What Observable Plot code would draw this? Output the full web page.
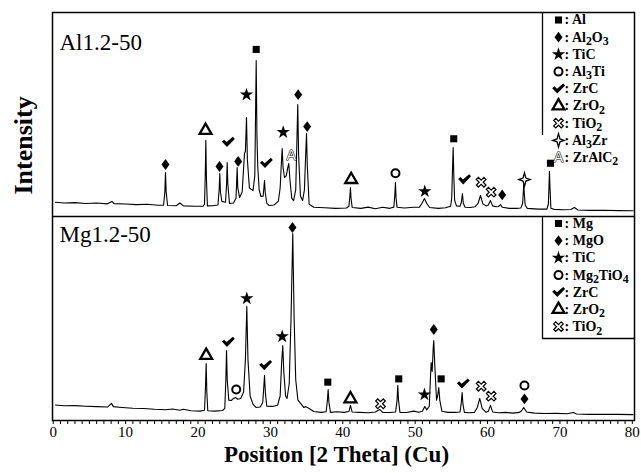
<!DOCTYPE html>
<html>
<head>
<meta charset="utf-8">
<script src="https://cdn.jsdelivr.net/npm/d3@7"></script>
<script src="https://cdn.jsdelivr.net/npm/@observablehq/plot@0.6"></script>
<style>
  html, body { margin: 0; padding: 0; background: white; }
</style>
</head>
<body>
<div id="chart"></div>
<script>
// ---- Data (2θ in degrees, intensity in arbitrary units, each panel 0–100) ----
const panelNames = ["Al1.2-50", "Mg1.2-50"];
const xTicks = [0, 10, 20, 30, 40, 50, 60, 70, 80];
const xLabel = "Position [2 Theta] (Cu)";
const yLabel = "Intensity";

// Al1.2-50 trace [2θ, intensity]
const alTrace = [
  [0.3,7.0],[1.5,6.6],[3,6.8],[4.5,6.4],[6,6.6],[7.5,6.2],[8.1,7.4],[8.4,6.3],[10,6.1],[11.5,5.8],[13,6.0],[14.5,5.5],
  [15.25,5.6],[15.42,12],[15.51,21.6],[15.6,12],[15.8,5.4],
  [17.0,5.3],[17.49,6.6],[18,5.2],[19.5,5.0],[20.7,5.0],
  [20.9,6],[21.0,20],[21.08,37.3],[21.17,18],[21.3,5.2],
  [22.0,5.3],[22.75,5.6],[22.92,13],[23.01,21.1],[23.1,12],[23.3,7.4],
  [23.8,7.0],[23.95,16],[24.03,26.5],[24.12,16],[24.35,6.4],[24.9,6.6],
  [25.25,9],[25.33,16],[25.41,24.0],[25.5,14],[25.75,9.3],
  [26.1,12],[26.42,30.9],[26.55,32],[26.70,48.5],[26.82,28],[27.1,14],
  [27.6,12.7],[27.85,20],[27.95,50],[28.04,76.5],[28.14,40],[28.26,24],[28.45,13],[28.7,9.8],
  [29.0,10],[29.1,14],[29.19,17.6],[29.28,12],[29.5,6.5],[29.8,5.4],[30.5,5.6],[31.1,7.5],
  [31.35,14],[31.5,25],[31.63,33.3],[31.75,24],[31.95,19.1],[32.2,20],[32.4,24],[32.54,26],[32.7,18],[32.95,9],[33.2,7.8],
  [33.5,13],[33.65,35],[33.78,54.9],[33.9,30],[34.15,10],[34.45,7.8],[34.7,13],[34.85,28],[34.99,40.7],[35.1,25],[35.35,6],[36,4.5],
  [37.5,4.3],[39,4.0],[40.5,4.2],[40.85,5],[40.98,10],[41.06,14.2],[41.14,9],[41.3,4.4],[42.5,4.0],[43.5,4.6],[44.5,3.8],[45.5,4.5],[46.5,4.0],
  [47.05,4.6],[47.18,10],[47.28,16.7],[47.36,9],[47.5,4.5],[48.5,4.2],[49.8,4.5],[50.6,4.6],
  [50.95,6.5],[51.28,8.8],[51.6,6.4],[52,4.4],[53.2,4.0],[54.2,4.3],[54.9,5.0],
  [55.05,9],[55.15,22],[55.25,33.8],[55.34,20],[55.45,8],[55.7,5.2],[56.2,5.0],
  [56.38,7],[56.53,11.3],[56.65,6.5],[56.9,4.5],[57.6,4.4],[58.3,4.8],
  [58.7,6.5],[59.02,10.3],[59.35,6.2],[59.8,5.2],[60.1,5.6],[60.4,7.8],[60.7,5.2],
  [61.2,4.8],[61.5,4.9],[61.78,5.8],[62.05,4.5],[63,4.0],[64,4.0],[64.6,4.2],
  [64.85,6.5],[64.93,11],[65.0,16.2],[65.08,11],[65.2,5.5],[65.5,4.0],[67,3.6],[68.2,3.6],
  [68.4,6],[68.48,14],[68.55,22.1],[68.63,14],[68.75,4],[69.2,3.5],[70.5,3.3],[71.5,3.4],[72.0,4.4],[72.5,3.2],[74,3.0],[76,3.1],[78,2.9],[80.1,2.8]
];

// Mg1.2-50 trace [2θ, intensity]
const mgTrace = [
  [0.3,7.6],[1.5,7.2],[3,7.3],[4.5,7.0],[6,6.8],[7.5,6.6],[8.05,8.4],[8.3,6.8],[9.5,6.4],[11,6.0],[12.5,5.9],[14,5.5],[15.5,5.3],[16.5,5.6],[17.5,5.0],[18,5.5],[19,4.8],[20.3,4.6],
  [20.9,5],[21.02,15],[21.13,27.9],[21.22,14],[21.35,4.8],[22.3,4.6],[23.4,4.9],
  [23.7,6],[23.85,20],[23.94,34.3],[24.04,20],[24.25,10],[24.6,9.8],[24.9,10.8],[25.18,11.3],[25.5,10.4],[25.9,10.8],
  [26.3,14],[26.55,30],[26.74,55.9],[26.9,30],[27.2,12],[27.6,8],[28,6.4],[28.6,6.6],
  [28.95,9],[29.08,16],[29.19,22.1],[29.3,14],[29.5,7],[30.3,6.9],[31.0,7.5],
  [31.35,12],[31.55,28],[31.71,36.8],[31.85,24],[32.1,12],[32.3,10.8],[32.6,18],[32.85,50],[33.09,91.7],[33.28,50],[33.5,20],[33.8,10],[34.2,8.3],[34.6,6.4],[34.9,6.8],[35.3,6],[36,4.4],
  [37,4.0],[37.7,4.3],[37.88,10],[37.98,15.2],[38.08,9],[38.3,4.0],[39.2,4.3],[40.2,4.0],
  [40.85,4.4],[41.06,7.4],[41.28,4.2],[42.3,4.0],[43.5,3.8],[44.5,4.2],[45.11,5.4],[45.5,4.0],[46.5,3.9],
  [47.3,4.2],[47.5,10],[47.6,17.2],[47.7,10],[47.9,4.0],[48.8,3.9],[49.8,4.6],[50.5,4.0],
  [51.0,4.5],[51.33,6.9],[51.6,5.2],[51.95,7],[52.1,20],[52.21,28.4],[52.35,24],[52.5,36],[52.57,39.2],[52.7,28],[52.95,10],[53.1,12],[53.26,16.2],[53.4,10],[53.7,4.5],[54.5,4.0],[55.5,4.0],[56.2,4.2],
  [56.35,8],[56.49,13.7],[56.6,8],[56.8,4.0],[57.5,3.8],[58.2,4.0],[58.6,6.5],[58.92,10.8],[59.25,6],[59.8,4.0],[60.1,4.5],[60.4,7.4],[60.7,4.2],[61.5,3.8],[62.5,4.0],[63.5,3.6],[64.4,4.0],
  [64.7,4.8],[65.0,6.4],[65.4,4.2],[66.5,3.6],[68,3.4],[69.5,3.5],[71,3.3],[71.86,3.9],[72.3,3.2],[74,3.0],[76,3.1],[78,3.0],[80.1,2.9]
];

// Phase markers [symbol, 2θ, intensity]
const alMarkers = [
  ["diamond",15.51,25.5],["triangle",21.04,42.2],["diamond",22.97,24.5],["check",24.17,36.4],["diamond",25.55,27.0],
  ["star",26.70,59.7],["square",28.04,81.9],["check",29.42,26.1],["star",31.77,41.3],["A",32.87,29.9],
  ["diamond",33.84,59.7],["diamond",35.08,44.1],["triangle",41.16,18.1],["circle",47.28,21.2],["star",51.33,12.3],
  ["square",55.33,38.1],["check",56.81,18.1],["xcross",59.12,16.8],["xcross",60.50,11.9],["diamond",62.02,10.6],
  ["star4",65.10,18.1],["square",68.69,26.1]
];
const mgMarkers = [
  ["triangle",21.13,31.9],["check",24.17,38.4],["circle",25.28,15.2],["star",26.74,59.8],["check",29.32,27.0],
  ["star",31.63,41.2],["diamond",33.05,94.6],["square",37.93,18.8],["triangle",41.06,10.6],["xcross",45.21,8.2],
  ["square",47.73,20.4],["star",51.28,12.7],["diamond",52.57,44.6],["square",53.59,20.4],["check",56.63,18.0],
  ["xcross",59.12,16.8],["xcross",60.50,11.9],["circle",65.10,17.2],["diamond",65.10,10.6]
];

// Legends [symbol, phase]
const alLegend = [["square","Al"],["diamond","Al₂O₃"],["star","TiC"],["circle","Al₃Ti"],["check","ZrC"],
  ["triangle","ZrO₂"],["xcross","TiO₂"],["star4","Al₃Zr"],["A","ZrAlC₂"]];
const mgLegend = [["square","Mg"],["diamond","MgO"],["star","TiC"],["circle","Mg₂TiO₄"],["check","ZrC"],
  ["triangle","ZrO₂"],["xcross","TiO₂"]];

// ---- Layout ----
const W = 641, H = 473, mT = 12, mB = 53, mL = 52, mR = 7;
const yMax = 200, off = 100;              // top panel is offset by 100
const pxPerV = (H - mB - mT) / yMax;
const xDom = [-0.1, 80.3];
const pxPerX = (W - mL - mR) / (xDom[1] - xDom[0]);
const vAt = py => (H - mB - py) / pxPerV;
const xAt = px => xDom[0] + (px - mL) / pxPerX;
const serif = "'Liberation Serif', 'Times New Roman', 'DejaVu Serif', serif";

// ---- custom symbols ----
const poly = (pts) => ({ draw(ctx, size) {
  const s = Math.sqrt(size / Math.PI);
  pts.forEach(([a, b], i) => i ? ctx.lineTo(a * s, b * s) : ctx.moveTo(a * s, b * s));
  ctx.closePath();
}});
const w = 0.42;
const SYM = {
  square:  {symbol: "square", r: 4, fill: "black", stroke: "none"},
  diamond: {symbol: poly([[0,-1.35],[1.0,0],[0,1.35],[-1.0,0]]), r: 4, fill: "black", stroke: "none"},
  star:    {symbol: "star", r: 4.2, fill: "black", stroke: "none"},
  circle:  {symbol: "circle", r: 4, fill: "white", stroke: "black", strokeWidth: 2},
  check:   {symbol: poly([[-1.05,-0.1],[-0.68,-0.42],[-0.25,-0.02],[0.78,-0.9],[1.1,-0.55],[-0.2,0.8]]), r: 6, fill: "black", stroke: "none"},
  triangle:{symbol: "triangle", r: 4.4, fill: "white", stroke: "black", strokeWidth: 2.3},
  xcross:  {symbol: poly([[-1,-1+w],[-1+w,-1],[0,-w],[1-w,-1],[1,-1+w],[w,0],[1,1-w],[1-w,1],[0,w],[-1+w,1],[-1,1-w],[-w,0]]), r: 4.8, fill: "white", stroke: "black", strokeWidth: 1.2},
  star4:   {symbol: poly([[0,-1.3],[0.28,-0.28],[1.1,0],[0.28,0.28],[0,1.3],[-0.28,0.28],[-1.1,0],[-0.28,-0.28]]), r: 5.2, fill: "white", stroke: "black", strokeWidth: 1.3}
};

function symbolMarks(rows) {
  const marks = [];
  for (const key of [...Object.keys(SYM), "A"]) {
    const sub = rows.filter(d => d.sym === key);
    if (!sub.length) continue;
    if (key === "A") {
      marks.push(Plot.text(sub, {x: "x", y: "y", text: () => "A", fontSize: 14, fontFamily: "DejaVu Sans",
        fill: "white", stroke: "black", strokeWidth: 1.1}));
    } else {
      marks.push(Plot.dot(sub, {x: "x", y: "y", ...SYM[key]}));
    }
  }
  return marks;
}

const markerRows = [
  ...alMarkers.map(([sym, x, v]) => ({sym, x, y: v + off})),
  ...mgMarkers.map(([sym, x, v]) => ({sym, x, y: v}))
];
const legendRows = (entries, topPx) => entries.map(([sym, label], i) => ({
  sym, label: ": " + label, x: xAt(558), tx: xAt(564), y: vAt(topPx + 17.2 * i)
}));
const legRows = [...legendRows(alLegend, 19.5), ...legendRows(mgLegend, 223)];

const boxX = xAt(542);

const plot = Plot.plot({
  width: W, height: H,
  marginTop: mT, marginBottom: mB, marginLeft: mL, marginRight: mR,
  style: {fontFamily: serif, background: "white", color: "black"},
  x: {domain: xDom},
  y: {domain: [0, yMax], axis: null},
  marks: [
    Plot.axisX({ticks: d3.range(0, 81, 1), tickFormat: d => xTicks.includes(d) ? String(d) : "",
      tickSize: 4, tickPadding: 2, fontSize: 15, label: null, stroke: "black"}),
    Plot.line(alTrace, {x: d => d[0], y: d => d[1] + off, stroke: "black", strokeWidth: 1.1}),
    Plot.line(mgTrace, {x: d => d[0], y: d => d[1], stroke: "black", strokeWidth: 1.1}),
    ...symbolMarks(markerRows),
    // legend boxes
    Plot.ruleX([boxX], {y1: vAt(135), y2: yMax, stroke: "black", strokeWidth: 1.3}),
    Plot.ruleX([boxX], {y1: vAt(338), y2: off, stroke: "black", strokeWidth: 1.3}),
    Plot.ruleY([vAt(338)], {x1: boxX, x2: xDom[1], stroke: "black", strokeWidth: 1.3}),
    ...symbolMarks(legRows),
    Plot.text(legRows, {x: "tx", y: "y", text: "label", textAnchor: "start", fontSize: 14, fontWeight: "bold", fill: "black"}),
    // panel labels
    Plot.text([panelNames[0]], {frameAnchor: "top-left", dx: 7, dy: 21, textAnchor: "start", fontSize: 23, fill: "black"}),
    Plot.text([panelNames[1]], {frameAnchor: "left", dx: 7, dy: 18, textAnchor: "start", fontSize: 23, fill: "black"}),
    // axis titles
    Plot.text([yLabel], {frameAnchor: "left", dx: -29, dy: -22, rotate: -90, fontSize: 26, fontWeight: "bold", fill: "black"}),
    Plot.text([xLabel], {frameAnchor: "bottom", dx: -7, dy: 41, fontSize: 23, fontWeight: "bold", fill: "black"}),
    // frame and divider
    Plot.ruleY([off], {stroke: "black", strokeWidth: 1.5}),
    Plot.frame({stroke: "black", strokeWidth: 1.5})
  ]
});

// Render Unicode subscript digits as lowered, slightly smaller digits of the same font
const subMap = {"₀":"0","₁":"1","₂":"2","₃":"3","₄":"4","₅":"5","₆":"6","₇":"7","₈":"8","₉":"9"};
d3.select(plot).selectAll("text").each(function() {
  if (this.children.length) return;
  const s = this.textContent;
  if (!/[₀-₉]/.test(s)) return;
  const el = d3.select(this);
  el.text(null);
  let buf = "", sub = false;
  const flush = () => {
    if (!buf) return;
    const t = el.append("tspan").text(buf);
    if (sub) t.attr("dy", "0.28em").attr("font-size", "0.85em");
    else if (el.node().children.length > 1) t.attr("dy", "-0.24em");
    buf = "";
  };
  for (const ch of s) {
    const isSub = ch in subMap;
    if (isSub !== sub) { flush(); sub = isSub; }
    buf += isSub ? subMap[ch] : ch;
  }
  flush();
});
document.getElementById("chart").appendChild(plot);
</script>
</body>
</html>
